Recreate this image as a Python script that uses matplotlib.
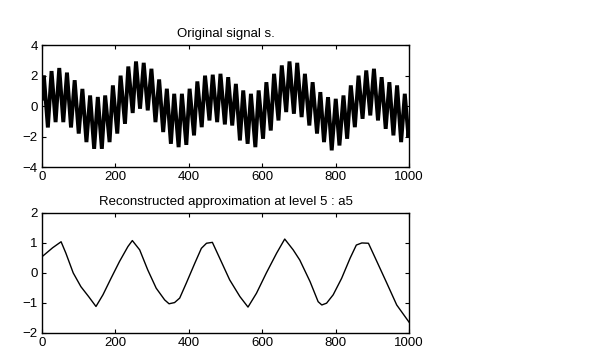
import matplotlib
matplotlib.use("Agg")
import matplotlib.pyplot as plt

plt.rcParams['font.family'] = ['Liberation Sans', 'DejaVu Sans']

# ---- Original signal s: extrema of the oscillation ----
sig_t = [1, 5, 16, 26, 37, 47, 58, 68, 79, 89, 100, 110, 121, 131, 142, 152, 163, 172, 184,
         193, 205, 214, 226, 235, 247, 256, 267, 277, 288, 298, 309, 319, 330, 340, 351, 360,
         372, 381, 393, 402, 414, 423, 435, 444, 456, 465, 477, 486, 498, 507, 518, 528, 539,
         548, 560, 569, 581, 590, 602, 611, 623, 632, 644, 653, 665, 674, 686, 695, 707, 716,
         728, 737, 749, 758, 768, 779, 789, 800, 810, 821, 831, 841, 852, 862, 873, 883, 894,
         904, 915, 925, 936, 946, 957, 967, 978, 988, 998, 1000]
sig_v = [0.5, 2.0, -1.4, 2.3, -1.05, 2.5, -1.05, 2.2, -1.4, 1.7, -1.8, 1.13, -2.36, 0.7, -2.8,
         0.6, -2.8, 0.7, -2.36, 1.36, -1.8, 2.0, -1.16, 2.6, -0.45, 2.93, -0.17, 2.84, -0.28,
         2.45, -1.05, 1.75, -1.7, 1.14, -2.47, 0.81, -2.69, 0.81, -2.54, 1.14, -1.92, 1.62,
         -1.38, 2.0, -0.94, 2.06, -1.05, 2.12, -1.2, 1.9, -1.27, 1.46, -2.25, 1.03, -2.47, 0.81,
         -2.69, 1.03, -2.14, 1.57, -1.6, 2.12, -0.94, 2.67, -0.39, 2.93, -0.5, 2.84, -0.72,
         2.12, -1.27, 1.57, -1.8, 0.92, -2.36, 0.59, -2.9, 0.48, -2.58, 0.7, -2.14, 1.36,
         -1.38, 2.0, -0.83, 2.34, -0.61, 2.45, -0.94, 1.9, -1.49, 1.57, -1.92, 1.36, -2.36,
         0.81, -2.03, -1.5]

# ---- Reconstructed approximation at level 5 : a5 ----
a5_t = [0, 29, 52, 65, 85, 106, 127, 147, 166, 188, 211, 234, 246, 266, 288, 311, 334, 346,
        361, 375, 393, 416, 434, 448, 464, 484, 511, 539, 561, 584, 611, 639, 661, 684, 702,
        730, 752, 762, 775, 793, 816, 839, 856, 871, 889, 912, 939, 966, 1000]
a5_v = [0.54, 0.84, 1.04, 0.66, 0.0, -0.46, -0.79, -1.12, -0.73, -0.18, 0.38, 0.88, 1.08,
        0.77, 0.1, -0.51, -0.9, -1.03, -0.99, -0.84, -0.34, 0.32, 0.82, 0.99, 1.02, 0.49,
        -0.23, -0.79, -1.14, -0.68, 0.0, 0.66, 1.13, 0.77, 0.43, -0.29, -0.96, -1.07, -1.01,
        -0.73, -0.18, 0.49, 0.93, 1.0, 0.99, 0.38, -0.34, -1.07, -1.65]

x_ticks = [0, 200, 400, 600, 800, 1000]
top_yticks = [-4, -2, 0, 2, 4]
bot_yticks = [-2, -1, 0, 1, 2]

fig = plt.figure(figsize=(6.0, 3.61), dpi=100)
ax1 = fig.add_axes([0.070, 0.537, 0.612, 0.338])
ax2 = fig.add_axes([0.070, 0.078, 0.612, 0.332])

ax1.plot(sig_t, sig_v, color='black', lw=2.8, solid_joinstyle='miter')
ax2.plot(a5_t, a5_v, color='black', lw=1.0)

ax1.set_title('Original signal s.', fontsize=9.5, pad=6)
ax2.set_title('Reconstructed approximation at level 5 : a5', fontsize=9.5, pad=6)

for ax, yt in ((ax1, top_yticks), (ax2, bot_yticks)):
    ax.set_xlim(0, 1000)
    ax.set_ylim(yt[0], yt[-1])
    ax.set_xticks(x_ticks)
    ax.set_yticks(yt)
    ax.tick_params(direction='in', length=3, width=0.8, top=True, right=True,
                   labelsize=9.5, pad=3)
    for s in ax.spines.values():
        s.set_linewidth(1.0)

fig.savefig('out.png', dpi=100)
